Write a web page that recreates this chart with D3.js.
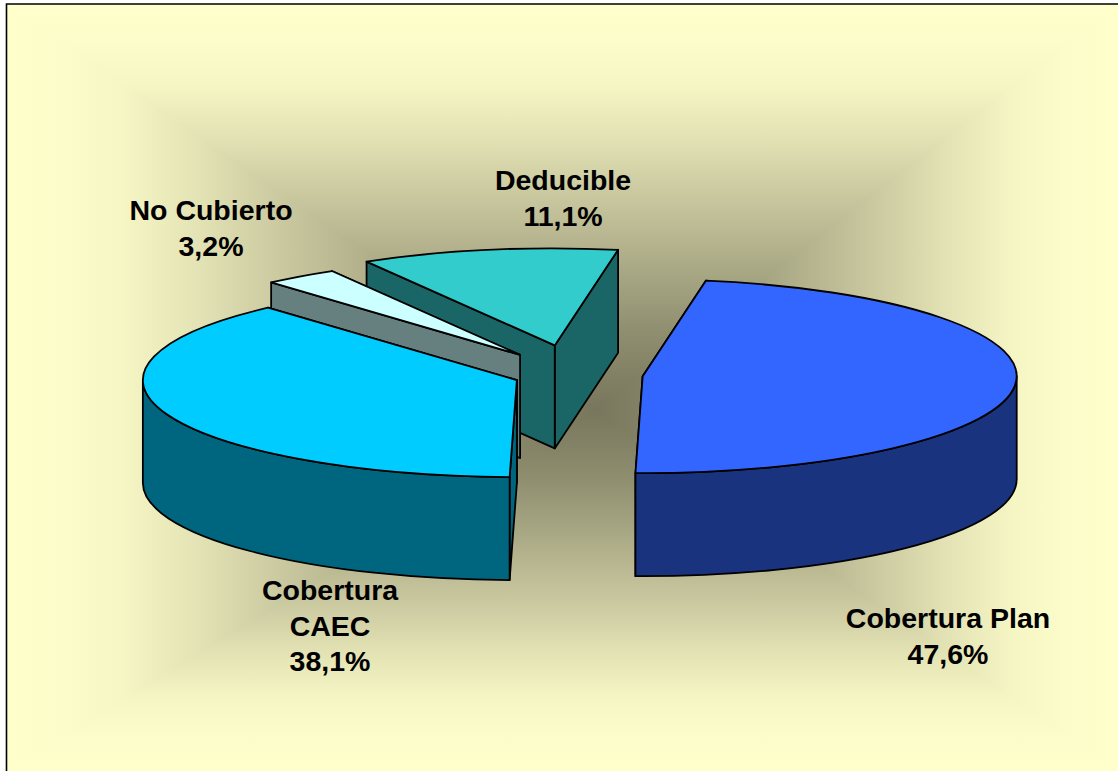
<!DOCTYPE html>
<html>
<head>
<meta charset="utf-8">
<script src="https://cdn.jsdelivr.net/npm/d3@7"></script>
<style>
html, body { margin: 0; padding: 0; background: #fff; }
svg { display: block; }
text { font-family: "Liberation Sans", Arial, sans-serif; font-weight: bold; font-size: 28.5px; fill: #000; text-anchor: middle; }
</style>
</head>
<body>
<div id="chart"></div>
<script>
// chart data
var categories = ["Cobertura Plan", "Cobertura CAEC", "No Cubierto", "Deducible"];
var values = [47.6, 38.1, 3.2, 11.1];
var labelLines = [["Cobertura Plan"], ["Cobertura", "CAEC"], ["No Cubierto"], ["Deducible"]];

// slice styles, same order as categories
var topColors = ["#3366FF", "#00CCFF", "#CCFFFF", "#33CCCC"];
var sideColors = ["#1A337F", "#006680", "#668080", "#1A6666"];
var explode = [68, 62, 93.5, 114];
var labelPos = [[948, 628], [330, 600], [211, 220], [563, 190]];
var drawOrder = [3, 2, 1, 0];

var svgWidth = 1118;
var svgHeight = 771;

// pie geometry
var center = { x: 575, y: 374.5 };
var rx = 374;
var ry = 97;
var depth = 103;
var firstAngle = 9.75 * Math.PI / 180;

var svg = d3.select("#chart")
    .append("svg")
    .attr("width", svgWidth)
    .attr("height", svgHeight);

var defs = svg.append("defs");

// background: rectangular gradient made of 4 triangles
var box = { x0: 6, y0: 4, x1: 1118, y1: 771 };
var mid = { x: 595, y: 410 };
var bgEdge = "#FFFFCC";
var bgCentre = "#78765C";
// the shade does not change evenly from edge to centre
var bgStops = [[0, 0], [0.1, 0.02], [0.2, 0.07], [0.33, 0.21], [0.47, 0.4], [0.6, 0.56], [0.8, 0.82], [1, 1]];
var bgColor = d3.interpolateRgb(bgEdge, bgCentre);

var bgSides = [
    { id: "bgTop", from: [mid.x, box.y0], pts: [[box.x0, box.y0], [box.x1, box.y0]] },
    { id: "bgRight", from: [box.x1, mid.y], pts: [[box.x1, box.y0], [box.x1, box.y1]] },
    { id: "bgBottom", from: [mid.x, box.y1], pts: [[box.x1, box.y1], [box.x0, box.y1]] },
    { id: "bgLeft", from: [box.x0, mid.y], pts: [[box.x0, box.y1], [box.x0, box.y0]] }
];

bgSides.forEach(function(s) {
    var grad = defs.append("linearGradient")
        .attr("id", s.id)
        .attr("gradientUnits", "userSpaceOnUse")
        .attr("x1", s.from[0])
        .attr("y1", s.from[1])
        .attr("x2", mid.x)
        .attr("y2", mid.y);
    bgStops.forEach(function(st) {
        grad.append("stop").attr("offset", st[0]).attr("stop-color", bgColor(st[1]));
    });

    svg.append("polygon")
        .attr("points", [s.pts[0], s.pts[1], [mid.x, mid.y]].map(p => p.join(",")).join(" "))
        .attr("fill", `url(#${s.id})`)
        .attr("shape-rendering", "crispEdges");
});

// chart frame, only top and left show in the window
svg.append("path")
    .attr("d", `M6.5,${svgHeight}V4H${svgWidth}`)
    .attr("fill", "none")
    .attr("stroke", "#000")
    .attr("stroke-width", 1.6);

// angles come from d3.pie
var pie = d3.pie()
    .sort(null)
    .startAngle(firstAngle)
    .endAngle(firstAngle + 2 * Math.PI);

var slices = pie(values);

var xScale = d3.scaleLinear().domain([-1, 1]).range([-rx, rx]);
var yScale = d3.scaleLinear().domain([-1, 1]).range([-ry, ry]);

// point on the rim of a slice
function rim(c, a, drop) {
    return [c.x + xScale(Math.sin(a)), c.y + yScale(-Math.cos(a)) + (drop || 0)];
}

function arcTo(p, sweep, large) {
    return `A${rx},${ry} 0 ${large ? 1 : 0} ${sweep} ${p[0]},${p[1]}`;
}

function sliceCenter(d, i) {
    var a = (d.startAngle + d.endAngle) / 2;
    return {
        x: center.x + xScale(Math.sin(a)) / rx * explode[i],
        y: center.y + yScale(-Math.cos(a)) / rx * explode[i]
    };
}

var pieGroup = svg.append("g")
    .attr("stroke", "#000")
    .attr("stroke-width", 1.8)
    .attr("stroke-linejoin", "round");

function drawSlice(i) {
    var d = slices[i];
    var c = sliceCenter(d, i);
    var g = pieGroup.append("g").attr("class", "slice");

    // cut faces, the one further back first
    var cuts = [d.startAngle, d.endAngle].sort((a, b) => rim(c, a)[1] - rim(c, b)[1]);
    cuts.forEach(function(a) {
        var p = rim(c, a);
        g.append("path")
            .attr("d", `M${c.x},${c.y}L${p[0]},${p[1]}V${p[1] + depth}L${c.x},${c.y + depth}Z`)
            .attr("fill", sideColors[i]);
    });

    // outer wall, front half of the ellipse only
    var a0 = Math.max(d.startAngle, Math.PI / 2);
    var a1 = Math.min(d.endAngle, 3 * Math.PI / 2);
    if (a1 > a0) {
        var p0 = rim(c, a0);
        var p1 = rim(c, a1);
        var p2 = rim(c, a1, depth);
        var p3 = rim(c, a0, depth);
        g.append("path")
            .attr("d", `M${p0}${arcTo(p1, 1)}L${p2}${arcTo(p3, 0)}Z`)
            .attr("fill", sideColors[i]);
    }

    // top of the slice
    var s = rim(c, d.startAngle);
    var e = rim(c, d.endAngle);
    g.append("path")
        .attr("d", `M${c.x},${c.y}L${s}${arcTo(e, 1, d.endAngle - d.startAngle > Math.PI)}Z`)
        .attr("fill", topColors[i]);
}

drawOrder.forEach(drawSlice);

// labels
var lineHeight = 35.5;
var formatPct = v => d3.format(".1f")(v).replace(".", ",") + "%";

var labels = svg.selectAll("text.label")
    .data(categories)
    .enter()
    .append("text")
    .attr("class", "label")
    .attr("transform", (d, i) => `translate(${labelPos[i][0]}, ${labelPos[i][1]})`);

labels.each(function(d, i) {
    var lines = labelLines[i].concat(formatPct(values[i]));
    d3.select(this).selectAll("tspan")
        .data(lines)
        .enter()
        .append("tspan")
        .attr("x", 0)
        .attr("y", (t, j) => j * lineHeight)
        .text(t => t);
});
</script>
</body>
</html>
